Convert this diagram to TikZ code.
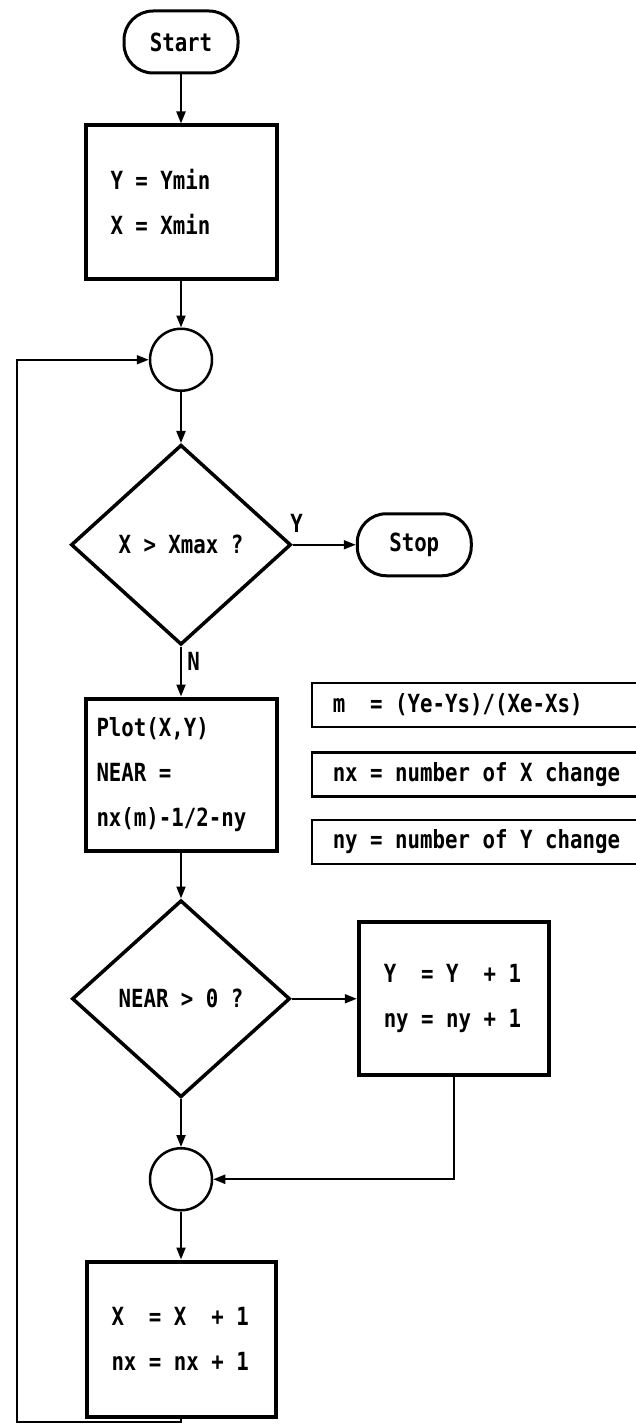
\documentclass[tikz,border=0pt]{standalone}
\usepackage{fontspec}
\setmonofont{DejaVu Sans Mono}[FakeStretch=0.83]
\usetikzlibrary{positioning,arrows.meta,shapes.geometric}

\newcommand{\flowfont}{\fontsize{25}{45}\selectfont\ttfamily\bfseries}
% align=left shrinks the spaces, so set them back to one cell
\newcommand{\cellspace}{\spaceskip=12.48pt\relax\xspaceskip=12.48pt\relax}

\begin{document}
\begin{tikzpicture}[x=1pt, y=-1pt,
  term/.style={draw, line width=3pt, rounded corners=29pt, minimum width=114pt,
    minimum height=62pt, inner sep=0pt},
  proc/.style={draw, line width=4pt, minimum width=191pt, minimum height=153pt,
    text width=141pt, inner xsep=25pt, inner ysep=0pt, align=left},
  dec/.style={draw, line width=3.5pt, diamond, minimum width=220pt, minimum height=200pt,
    inner sep=0pt},
  joint/.style={draw, line width=2.5pt, circle, minimum size=62pt, inner sep=0pt},
  note/.style={draw, line width=2.5pt, minimum height=44pt, text width=300pt,
    inner xsep=21pt, inner ysep=0pt, align=left},
  >={Triangle[length=12pt,width=9pt]}, line width=2pt,
  font=\flowfont, execute at begin node=\cellspace
]
\useasboundingbox (0,0) rectangle (636,1426);

\node[term] (start) at (181,42) {Start};
\node[proc, below=49pt of start] (init) {Y = Ymin\\X = Xmin};
\node[joint, below=47pt of init] (c1) {};
\node[dec, below=51pt of c1] (d1) {X > Xmax ?};
\node[term, right=63pt of d1] (stop) {Stop};
\node[proc, below=50pt of d1, minimum height=152pt, text width=169pt, inner xsep=11pt] (plot)
  {Plot(X,Y)\\NEAR =\\nx(m)-1/2-ny};

% side notes
\node[note, anchor=north west] (mA) at ([xshift=32pt,yshift=15pt]plot.north east)
  {m~~= (Ye-Ys)/(Xe-Xs)};
\node[note, below=23pt of mA] (mB) {nx = number of X change};
\node[note, below=21pt of mB] (mC) {ny = number of Y change};

\node[dec, below=46pt of plot, minimum width=218pt, minimum height=197pt] (d2) {NEAR > 0 ?};
\node[proc, right=65pt of d2, minimum width=190pt, text width=140pt] (ybox) {Y~~= Y~~+ 1\\ny = ny + 1};
\node[joint, below=48pt of d2] (c2) {};
\node[proc, below=48pt of c2, minimum height=155pt, minimum width=189pt, text width=139pt] (upd)
  {X~~= X~~+ 1\\nx = nx + 1};

\coordinate (lp) at (17,1422);

\draw[->] (start) -- (init);
\draw[->] (init) -- (c1);
\draw[->] (c1) -- (d1);
\draw[->] (d1) -- node[pos=0.06, above=8pt] {Y} (stop);
\draw[->] (d1) -- node[pos=0.3, right=2pt] {N} (plot);
\draw[->] (plot) -- (d2);
\draw[->] (d2) -- (ybox);
\draw[->] (d2) -- (c2);
\draw[->] (ybox.south) |- (c2.east);
\draw[->] (c2) -- (upd);
\draw[->] (upd.south) |- (lp) |- (c1.west);
\end{tikzpicture}
\end{document}
